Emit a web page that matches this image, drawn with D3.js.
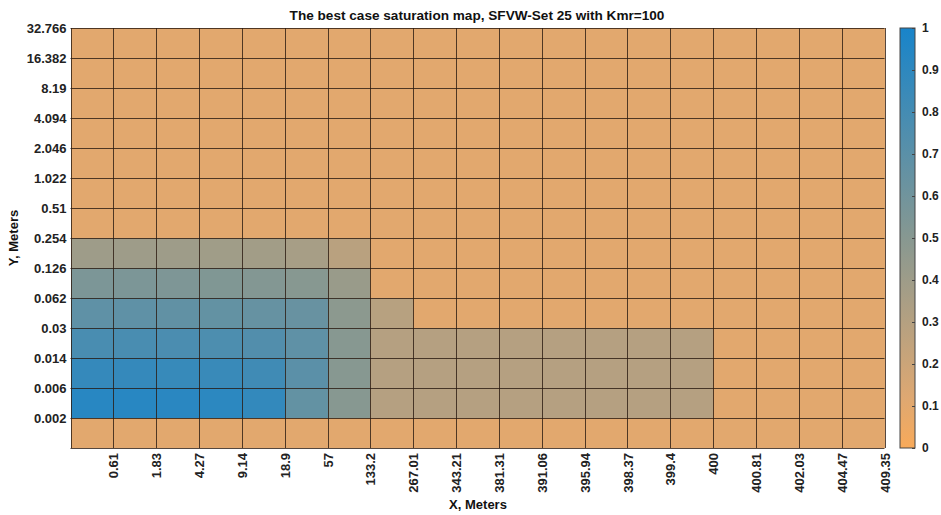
<!DOCTYPE html>
<html>
<head>
<meta charset="utf-8">
<script src="https://cdn.jsdelivr.net/npm/d3@7"></script>
<style>
  html, body { margin: 0; padding: 0; background: #fff; }
  svg { display: block; font-family: "Liberation Sans", Arial, sans-serif; }
</style>
</head>
<body>
<svg id="chart" width="941" height="515"></svg>
<script>
// ---------------- data ----------------
const titleText = "The best case saturation map, SFVW-Set 25 with Kmr=100";
const xLabelText = "X, Meters";
const yLabelText = "Y, Meters";

// x grid boundaries (tick labels at column boundaries 1..19; first boundary unlabeled)
const xTickLabels = ["0.61","1.83","4.27","9.14","18.9","57","133.2","267.01","343.21","381.31",
                     "391.06","395.94","398.37","399.4","400","400.81","402.03","404.47","409.35"];
// y grid boundaries (bottom to top; first boundary unlabeled)
const yTickLabels = ["0.002","0.006","0.014","0.03","0.062","0.126","0.254","0.51","1.022",
                     "2.046","4.094","8.19","16.382","32.766"];

// saturation per cell, one array per row (bottom row first), 19 columns each
const satRow01 = [0.10,0.10,0.10,0.10,0.10,0.10,0.10,0.10,0.10,0.10,0.10,0.10,0.10,0.10,0.10,0.10,0.10,0.10,0.10];
const satRow02 = [0.93,0.93,0.92,0.91,0.88,0.66,0.50,0.30,0.30,0.30,0.30,0.30,0.30,0.30,0.30,0.10,0.10,0.10,0.10];
const satRow03 = [0.87,0.87,0.86,0.85,0.82,0.70,0.50,0.30,0.30,0.30,0.30,0.30,0.30,0.30,0.30,0.10,0.10,0.10,0.10];
const satRow04 = [0.78,0.78,0.77,0.76,0.74,0.68,0.50,0.30,0.30,0.30,0.30,0.30,0.30,0.30,0.30,0.10,0.10,0.10,0.10];
const satRow05 = [0.68,0.68,0.67,0.66,0.65,0.64,0.48,0.29,0.10,0.10,0.10,0.10,0.10,0.10,0.10,0.10,0.10,0.10,0.10];
const satRow06 = [0.55,0.55,0.54,0.53,0.52,0.50,0.42,0.10,0.10,0.10,0.10,0.10,0.10,0.10,0.10,0.10,0.10,0.10,0.10];
const satRow07 = [0.40,0.40,0.40,0.39,0.38,0.36,0.28,0.10,0.10,0.10,0.10,0.10,0.10,0.10,0.10,0.10,0.10,0.10,0.10];
const satRow08 = [0.10,0.10,0.10,0.10,0.10,0.10,0.10,0.10,0.10,0.10,0.10,0.10,0.10,0.10,0.10,0.10,0.10,0.10,0.10];
const satRow09 = [0.10,0.10,0.10,0.10,0.10,0.10,0.10,0.10,0.10,0.10,0.10,0.10,0.10,0.10,0.10,0.10,0.10,0.10,0.10];
const satRow10 = [0.10,0.10,0.10,0.10,0.10,0.10,0.10,0.10,0.10,0.10,0.10,0.10,0.10,0.10,0.10,0.10,0.10,0.10,0.10];
const satRow11 = [0.10,0.10,0.10,0.10,0.10,0.10,0.10,0.10,0.10,0.10,0.10,0.10,0.10,0.10,0.10,0.10,0.10,0.10,0.10];
const satRow12 = [0.10,0.10,0.10,0.10,0.10,0.10,0.10,0.10,0.10,0.10,0.10,0.10,0.10,0.10,0.10,0.10,0.10,0.10,0.10];
const satRow13 = [0.10,0.10,0.10,0.10,0.10,0.10,0.10,0.10,0.10,0.10,0.10,0.10,0.10,0.10,0.10,0.10,0.10,0.10,0.10];
const satRow14 = [0.10,0.10,0.10,0.10,0.10,0.10,0.10,0.10,0.10,0.10,0.10,0.10,0.10,0.10,0.10,0.10,0.10,0.10,0.10];
const satRows = [satRow01,satRow02,satRow03,satRow04,satRow05,satRow06,satRow07,
                 satRow08,satRow09,satRow10,satRow11,satRow12,satRow13,satRow14];

const colorStops = [0, 0.12, 0.5, 1];
const colorValues = ["#f8aa5a", "#dea872", "#879891", "#1884ca"];
const cbarTicks = [0,0.1,0.2,0.3,0.4,0.5,0.6,0.7,0.8,0.9,1];

// ---------------- layout ----------------
const svg = d3.select("#chart");
const plot = { left: 70.5, right: 884.5, top: 28, bottom: 448 };
const nCols = xTickLabels.length;
const nRows = yTickLabels.length;

const x = d3.scaleLinear().domain([0, nCols]).range([plot.left, plot.right]);
const y = d3.scaleLinear().domain([0, nRows]).range([plot.bottom, plot.top]);
const color = d3.scaleLinear().domain(colorStops).range(colorValues).interpolate(d3.interpolateRgb);

// cells
const cells = [];
satRows.forEach((row, r) => row.forEach((v, c) => cells.push({ r, c, v })));

svg.append("g").selectAll("rect").data(cells).join("rect")
  .attr("x", d => x(d.c))
  .attr("y", d => y(d.r + 1))
  .attr("width", d => x(d.c + 1) - x(d.c))
  .attr("height", d => y(d.r) - y(d.r + 1))
  .attr("fill", d => color(d.v))
  .attr("shape-rendering", "crispEdges");

// grid edges
const grid = svg.append("g").attr("stroke", "#2a1a10").attr("stroke-opacity", 0.8).attr("stroke-width", 1);
d3.range(nCols + 1).forEach(i => grid.append("line")
  .attr("x1", Math.round(x(i)) + 0.5).attr("x2", Math.round(x(i)) + 0.5)
  .attr("y1", plot.top).attr("y2", plot.bottom));
d3.range(nRows + 1).forEach(j => grid.append("line")
  .attr("y1", Math.round(y(j)) + 0.5).attr("y2", Math.round(y(j)) + 0.5)
  .attr("x1", plot.left).attr("x2", plot.right));

// axes
const fontSize = 13;
const xAxis = d3.axisBottom(x)
  .tickValues(d3.range(1, nCols + 1))
  .tickFormat(i => xTickLabels[i - 1])
  .tickSize(0).tickPadding(0);
const gx = svg.append("g").attr("transform", `translate(0,${plot.bottom})`).call(xAxis);
gx.select(".domain").remove();
gx.selectAll("text")
  .attr("transform", "rotate(-90)")
  .attr("x", -5).attr("y", 0).attr("dy", "0.35em")
  .style("text-anchor", "end")
  .attr("font-size", fontSize).attr("font-weight", "bold")
  .attr("font-family", "Liberation Sans, Arial, sans-serif").attr("fill", "#222");

const yAxis = d3.axisLeft(y)
  .tickValues(d3.range(1, nRows + 1))
  .tickFormat(i => yTickLabels[i - 1])
  .tickSize(0).tickPadding(4);
const gy = svg.append("g").attr("transform", `translate(${plot.left},0)`).call(yAxis);
gy.select(".domain").remove();
gy.selectAll("text")
  .attr("font-size", fontSize).attr("font-weight", "bold")
  .attr("font-family", "Liberation Sans, Arial, sans-serif").attr("fill", "#222");

// titles
svg.append("text").attr("x", 477).attr("y", 20)
  .attr("text-anchor", "middle").attr("font-size", 13.6).attr("font-weight", "bold")
  .attr("fill", "#111").text(titleText);
svg.append("text").attr("x", 478).attr("y", 509)
  .attr("text-anchor", "middle").attr("font-size", fontSize).attr("font-weight", "bold")
  .attr("fill", "#111").text(xLabelText);
svg.append("text").attr("transform", `translate(18,${(plot.top + plot.bottom) / 2}) rotate(-90)`)
  .attr("text-anchor", "middle").attr("font-size", fontSize).attr("font-weight", "bold")
  .attr("fill", "#111").text(yLabelText);

// colorbar
const cb = { x: 900, w: 15 };
const cy = d3.scaleLinear().domain([0, 1]).range([plot.bottom, plot.top]);
const defs = svg.append("defs");
const grad = defs.append("linearGradient").attr("id", "cbgrad")
  .attr("x1", 0).attr("y1", 1).attr("x2", 0).attr("y2", 0);
grad.selectAll("stop").data(colorStops).join("stop")
  .attr("offset", d => d).attr("stop-color", d => color(d));
svg.append("rect").attr("x", cb.x).attr("y", plot.top).attr("width", cb.w)
  .attr("height", plot.bottom - plot.top).attr("fill", "url(#cbgrad)")
  .attr("stroke", "#444").attr("stroke-width", 1);
const cAxis = d3.axisRight(cy).tickValues(cbarTicks).tickFormat(d3.format("~g"))
  .tickSize(-3).tickPadding(7);
const gc = svg.append("g").attr("transform", `translate(${cb.x + cb.w},0)`).call(cAxis);
gc.select(".domain").remove();
gc.selectAll("line").attr("stroke", "#444");
gc.selectAll("text").attr("font-size", 12).attr("font-weight", "bold")
  .attr("font-family", "Liberation Sans, Arial, sans-serif").attr("fill", "#222");
</script>
</body>
</html>
